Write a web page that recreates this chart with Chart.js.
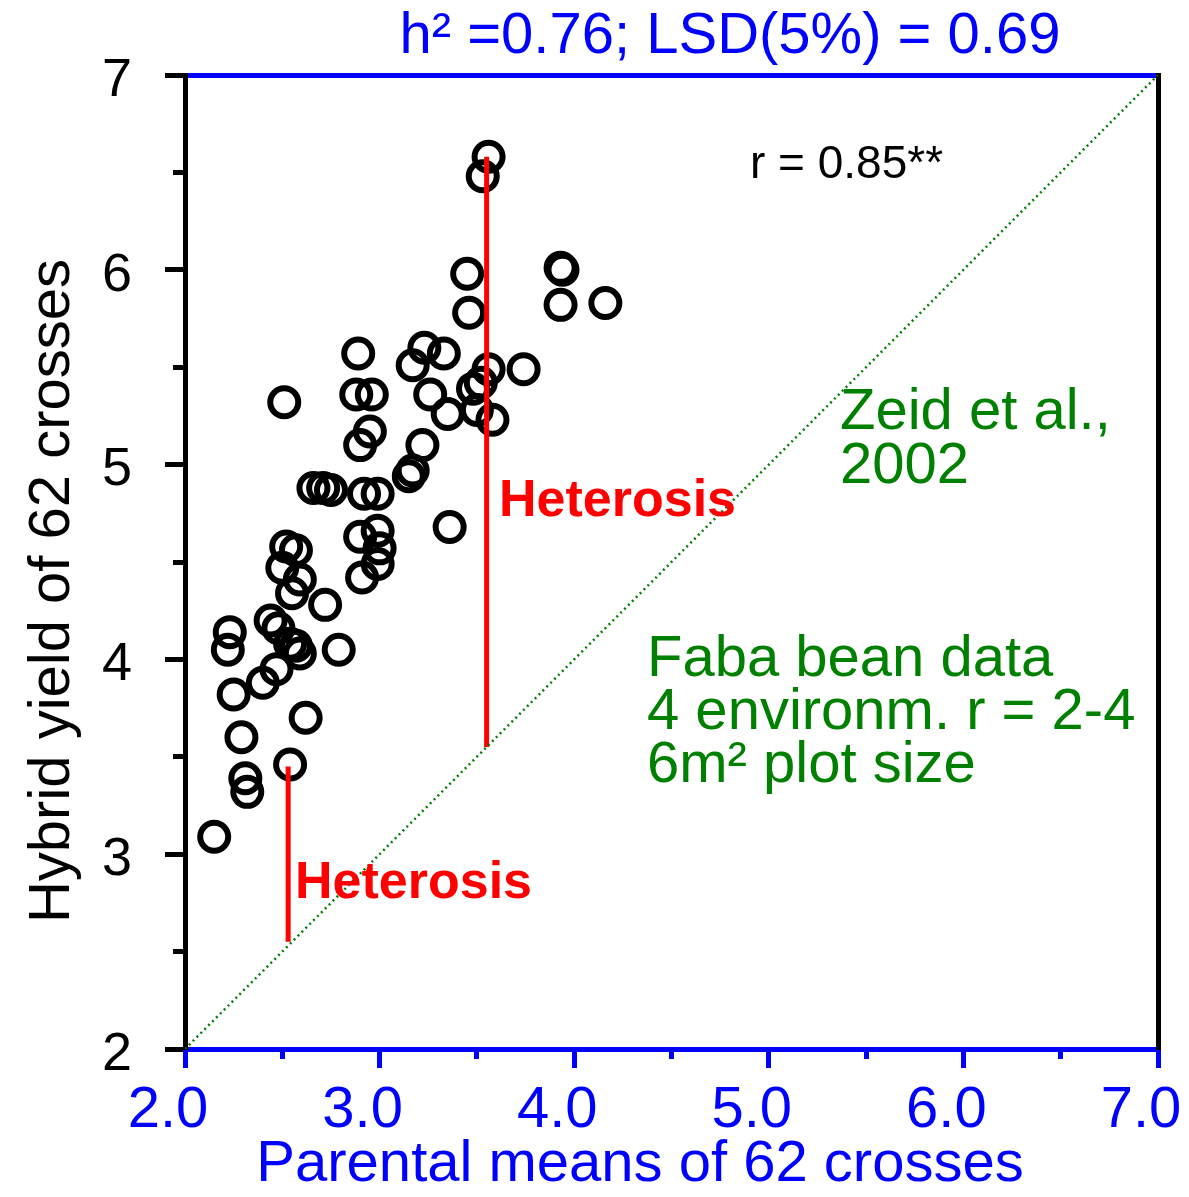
<!DOCTYPE html>
<html>
<head>
<meta charset="utf-8">
<script src="https://cdn.jsdelivr.net/npm/chart.js@4.4.1/dist/chart.umd.min.js"></script>
<style>
  html, body { margin: 0; padding: 0; background: #fff; }
  #wrap { width: 1189px; height: 1197px; }
</style>
</head>
<body>
<div id="wrap"><canvas id="chart" width="1189" height="1197"></canvas></div>
<script>
// parental means (x) and hybrid yield (y) of the 62 crosses
const parentMeans = [
  3.56, 3.53, 3.45, 3.93, 3.94, 3.93, 4.16, 3.46, 2.89, 3.23,
  3.33, 3.17, 3.56, 3.74, 2.51, 2.88, 2.96, 3.26, 3.48, 3.52,
  3.50, 3.58, 3.35, 2.95, 2.90, 3.22, 3.15, 3.17, 2.66, 2.71,
  2.75, 2.92, 2.99, 3.36, 2.52, 2.57, 2.90, 2.99, 3.00, 2.99,
  2.91, 2.50, 2.59, 2.55, 2.72, 2.23, 2.22, 2.44, 2.48, 2.54,
  2.59, 2.57, 2.79, 2.47, 2.40, 2.25, 2.62, 2.29, 2.54, 2.31,
  2.32, 2.15
];
const hybridYields = [
  6.58, 6.48, 5.98, 6.01, 6.00, 5.82, 5.83, 5.78, 5.57, 5.60,
  5.57, 5.51, 5.49, 5.49, 5.32, 5.36, 5.36, 5.36, 5.39, 5.42,
  5.28, 5.23, 5.26, 5.17, 5.10, 5.10, 4.94, 4.97, 4.88, 4.88,
  4.87, 4.85, 4.85, 4.68, 4.58, 4.56, 4.63, 4.66, 4.57, 4.49,
  4.42, 4.47, 4.41, 4.34, 4.28, 4.14, 4.05, 4.20, 4.16, 4.08,
  4.03, 4.07, 4.05, 3.95, 3.88, 3.82, 3.70, 3.60, 3.46, 3.39,
  3.32, 3.09
];

// vertical heterosis bars (from the 1:1 line up to the hybrid)
const heterosisHighX = [3.55, 3.55];
const heterosisHighY = [3.55, 6.58];
const heterosisLowX = [2.53, 2.53];
const heterosisLowY = [2.55, 3.45];

// 1:1 line
const diagonalX = [2, 7];
const diagonalY = [2, 7];

const majorTicksX = [2, 3, 4, 5, 6, 7];
const majorTicksY = [2, 3, 4, 5, 6, 7];

const BLUE = '#0000ff';
const GREEN = '#008000';
const RED = '#ff0000';
const FONT = "'Liberation Sans', Arial, sans-serif";

function toPoints(xs, ys) {
  return xs.map((x, i) => ({ x: x, y: ys[i] }));
}

// annotation texts and axis titles
const textPlugin = {
  id: 'texts',
  afterDraw(chart) {
    const ctx = chart.ctx;
    ctx.save();
    ctx.textBaseline = 'alphabetic';

    ctx.fillStyle = BLUE;
    ctx.font = '58px ' + FONT;
    ctx.textAlign = 'center';
    ctx.fillText('h² =0.76; LSD(5%) = 0.69', 730, 53);
    ctx.fillText('Parental means of 62 crosses', 640, 1181);

    ctx.save();
    ctx.fillStyle = '#000';
    ctx.translate(69, 591);
    ctx.rotate(-Math.PI / 2);
    ctx.fillText('Hybrid yield of 62 crosses', 0, 0);
    ctx.restore();

    ctx.textAlign = 'left';
    ctx.fillStyle = '#000';
    ctx.font = '46px ' + FONT;
    ctx.fillText('r = 0.85**', 750, 178);

    ctx.fillStyle = GREEN;
    ctx.font = '58px ' + FONT;
    ctx.fillText('Zeid et al.,', 840, 429);
    ctx.fillText('2002', 840, 483);
    ctx.fillText('Faba bean data', 647, 676);
    ctx.fillText('4 environm. r = 2-4', 647, 729);
    ctx.fillText('6m² plot size', 647, 782);

    ctx.fillStyle = RED;
    ctx.font = 'bold 52px ' + FONT;
    ctx.fillText('Heterosis', 499, 516);
    ctx.fillText('Heterosis', 295, 898);
    ctx.restore();
  }
};

function fixSize(prop, size) {
  return function (scale) {
    scale[prop] = size;
    scale.paddingLeft = 0;
    scale.paddingRight = 0;
    scale.paddingTop = 0;
    scale.paddingBottom = 0;
  };
}

const ctx = document.getElementById('chart').getContext('2d');
const chart = new Chart(ctx, {
  type: 'scatter',
  data: {
    datasets: [
      {
        label: '1:1',
        type: 'line',
        data: toPoints(diagonalX, diagonalY),
        borderColor: GREEN,
        borderWidth: 2.5,
        borderDash: [2, 3.5],
        pointRadius: 0,
        fill: false
      },
      {
        label: 'heterosis high',
        type: 'line',
        data: toPoints(heterosisHighX, heterosisHighY),
        borderColor: RED,
        borderWidth: 5,
        pointRadius: 0,
        fill: false
      },
      {
        label: 'heterosis low',
        type: 'line',
        data: toPoints(heterosisLowX, heterosisLowY),
        borderColor: RED,
        borderWidth: 5,
        pointRadius: 0,
        fill: false
      },
      {
        label: 'crosses',
        data: toPoints(parentMeans, hybridYields),
        pointStyle: 'circle',
        pointRadius: 14,
        pointBorderWidth: 6,
        pointBorderColor: '#000',
        pointBackgroundColor: 'rgba(0,0,0,0)'
      }
    ]
  },
  options: {
    responsive: false,
    devicePixelRatio: 1,
    animation: false,
    events: [],
    layout: { padding: { left: 0, right: 31, top: 75, bottom: 0 } },
    plugins: {
      legend: { display: false },
      tooltip: { enabled: false },
      title: { display: false }
    },
    scales: {
      x: {
        type: 'linear', position: 'bottom', weight: 1,
        min: 2, max: 7,
        afterBuildTicks: (s) => { s.ticks = majorTicksX.map(v => ({ value: v })); },
        border: { display: true, color: BLUE, width: 5 },
        grid: { drawOnChartArea: false, drawTicks: true, tickLength: 19, tickWidth: 5, tickColor: BLUE },
        ticks: {
          color: BLUE, font: { family: FONT, size: 58 }, padding: 8, labelOffset: -17,
          maxRotation: 0, autoSkip: false,
          callback: (v) => Number(v).toFixed(1)
        },
        afterFit: fixSize('height', 148)
      },
      xMinor: {
        type: 'linear', position: 'bottom', weight: 0,
        min: 2, max: 7,
        ticks: { display: false, stepSize: 0.5 },
        border: { display: false },
        grid: { drawOnChartArea: false, drawTicks: true, tickLength: 10, tickWidth: 5, tickColor: BLUE },
        afterFit: fixSize('height', 0)
      },
      xTop: {
        type: 'linear', position: 'top',
        min: 2, max: 7,
        ticks: { display: false },
        grid: { display: false },
        border: { display: true, color: BLUE, width: 5 },
        afterFit: fixSize('height', 0)
      },
      y: {
        type: 'linear', position: 'left', weight: 1,
        min: 2, max: 7,
        afterBuildTicks: (s) => { s.ticks = majorTicksY.map(v => ({ value: v })); },
        border: { display: true, color: '#000', width: 5 },
        grid: { drawOnChartArea: false, drawTicks: true, tickLength: 20, tickWidth: 5, tickColor: '#000' },
        ticks: {
          color: '#000', font: { family: FONT, size: 54 }, padding: 33, labelOffset: 6,
          autoSkip: false,
          callback: (v) => String(v)
        },
        afterFit: fixSize('width', 185)
      },
      yMinor: {
        type: 'linear', position: 'left', weight: 0,
        min: 2, max: 7,
        ticks: { display: false, stepSize: 0.5 },
        border: { display: false },
        grid: { drawOnChartArea: false, drawTicks: true, tickLength: 12, tickWidth: 5, tickColor: '#000' },
        afterFit: fixSize('width', 0)
      },
      yRight: {
        type: 'linear', position: 'right',
        min: 2, max: 7,
        ticks: { display: false },
        grid: { display: false },
        border: { display: true, color: '#000', width: 5 },
        afterFit: fixSize('width', 0)
      }
    }
  },
  plugins: [textPlugin]
});
</script>
</body>
</html>
